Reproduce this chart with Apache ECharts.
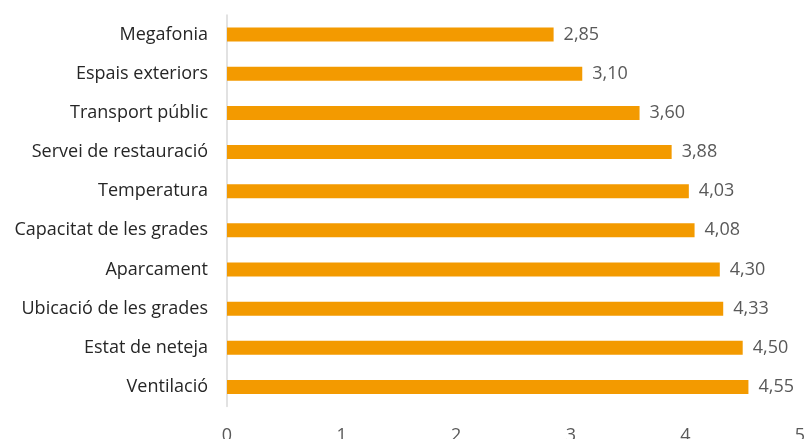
<!DOCTYPE html>
<html>
<head>
<meta charset="utf-8">
<script src="https://cdn.jsdelivr.net/npm/echarts@6/dist/echarts.min.js"></script>
<style>
  html, body { margin: 0; padding: 0; background: #fff; }
  #chart { width: 804px; height: 439px; }
</style>
</head>
<body>
<div id="chart"></div>
<script>
// categories top to bottom
const categories = [
  'Megafonia',
  'Espais exteriors',
  'Transport públic',
  'Servei de restauració',
  'Temperatura',
  'Capacitat de les grades',
  'Aparcament',
  'Ubicació de les grades',
  'Estat de neteja',
  'Ventilació',
];
const scores = [2.85, 3.10, 3.60, 3.88, 4.03, 4.08, 4.30, 4.33, 4.50, 4.55];
const xTicks = [0, 1, 2, 3, 4, 5];

const chart = echarts.init(document.getElementById('chart'));

chart.setOption({
  animation: false,
  textStyle: { fontFamily: 'Open Sans' },
  grid: { left: 227, right: 4, top: 15, bottom: 32.5, outerBoundsMode: 'none', containLabel: false },
  xAxis: {
    type: 'value',
    min: xTicks[0],
    max: xTicks[xTicks.length - 1],
    interval: 1,
    axisLine: { show: false },
    axisTick: { show: false },
    splitLine: { show: false },
    axisLabel: {
      color: '#595959',
      fontSize: 18,
      margin: 20,
      formatter: (v) => (xTicks.includes(v) ? String(v) : ''),
    },
  },
  yAxis: {
    type: 'category',
    data: categories,
    inverse: true,
    axisLine: { show: true, lineStyle: { color: '#d9d9d9', width: 1.5 } },
    axisTick: { show: false },
    axisLabel: { color: '#262626', fontSize: 18, margin: 19 },
  },
  series: [
    {
      type: 'bar',
      data: scores,
      barWidth: 14,
      itemStyle: { color: '#F39A00' },
      label: {
        show: true,
        position: 'right',
        distance: 10,
        color: '#595959',
        fontSize: 18,
        formatter: (p) => p.value.toFixed(2).replace('.', ','),
      },
    },
  ],
});
</script>
</body>
</html>
